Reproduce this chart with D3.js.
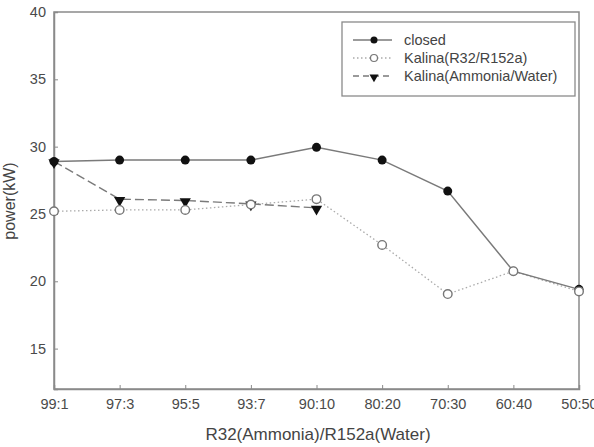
<!DOCTYPE html>
<html>
<head>
<meta charset="utf-8">
<script src="https://cdn.jsdelivr.net/npm/d3@7"></script>
<style>
  body { margin: 0; background: #fff; }
  text { font-family: "Liberation Sans", Arial, sans-serif; }
</style>
</head>
<body>
<svg id="chart" width="594" height="447"></svg>
<script>
// ratios on the x axis
const ratios = ["99:1", "97:3", "95:5", "93:7", "90:10", "80:20", "70:30", "60:40", "50:50"];
const closed = [28.9, 29.0, 29.0, 29.0, 29.95, 29.0, 26.7, 20.75, 19.4];
const kalinaR32 = [25.2, 25.3, 25.3, 25.7, 26.1, 22.7, 19.05, 20.75, 19.25];
const kalinaNH3 = [28.9, 26.1, 26.0, 25.75, 25.45];
const yTicks = [15, 20, 25, 30, 35, 40];

const svg = d3.select("#chart");
const plotL = 54, plotR = 579, plotT = 12, plotB = 389;

const x = d3.scalePoint().domain(ratios).range([plotL, plotR]).padding(0);
const y = d3.scaleLinear().domain([12, 40]).range([plotB, plotT]);

const axisCol = "#8a8a8a";
const lineCol = "#7a7a7a";

// frame
svg.append("rect")
  .attr("x", plotL).attr("y", plotT)
  .attr("width", plotR - plotL).attr("height", plotB - plotT)
  .attr("fill", "none").attr("stroke", axisCol).attr("stroke-width", 1.5);

// axes with inward ticks
const yAxis = svg.append("g")
  .attr("transform", `translate(${plotL},0)`)
  .call(d3.axisLeft(y).tickValues(yTicks).tickSize(-4).tickPadding(8));
const xAxis = svg.append("g")
  .attr("transform", `translate(0,${plotB})`)
  .call(d3.axisBottom(x).tickSize(-4).tickPadding(10));

[yAxis, xAxis].forEach(g => {
  g.select(".domain").attr("stroke", axisCol).attr("stroke-width", 1.5);
  g.selectAll(".tick line").attr("stroke", axisCol);
  g.selectAll(".tick text")
    .attr("fill", "#4a4a4a")
    .style("font-size", "14.5px")
    .style("font-family", "Liberation Sans, Arial, sans-serif");
});

// axis titles
svg.append("text")
  .attr("x", 318).attr("y", 440)
  .attr("text-anchor", "middle")
  .attr("fill", "#444")
  .style("font-size", "17px")
  .text("R32(Ammonia)/R152a(Water)");

svg.append("text")
  .attr("transform", "translate(15,201) rotate(-90)")
  .attr("text-anchor", "middle")
  .attr("fill", "#444")
  .style("font-size", "16px")
  .text("power(kW)");

const line = d3.line()
  .x((d, i) => x(ratios[i]))
  .y(d => y(d));

const tri = d3.symbol().type(d3.symbolTriangle).size(55);

// Kalina R32/R152a - dotted
svg.append("path").datum(kalinaR32)
  .attr("d", line).attr("fill", "none")
  .attr("stroke", "#aaa").attr("stroke-width", 1.3)
  .attr("stroke-dasharray", "1.5,2.5");

// Kalina Ammonia/Water - dashed
svg.append("path").datum(kalinaNH3)
  .attr("d", line).attr("fill", "none")
  .attr("stroke", lineCol).attr("stroke-width", 1.4)
  .attr("stroke-dasharray", "9,4");

// closed - solid
svg.append("path").datum(closed)
  .attr("d", line).attr("fill", "none")
  .attr("stroke", lineCol).attr("stroke-width", 1.5);

svg.selectAll(".nh3").data(kalinaNH3).join("path")
  .attr("class", "nh3")
  .attr("d", tri)
  .attr("transform", (d, i) => `translate(${x(ratios[i])},${y(d) + 1}) rotate(180)`)
  .attr("fill", "#111");

svg.selectAll(".cl").data(closed).join("circle")
  .attr("class", "cl")
  .attr("cx", (d, i) => x(ratios[i])).attr("cy", d => y(d))
  .attr("r", 4.5).attr("fill", "#111");

svg.selectAll(".r32").data(kalinaR32).join("circle")
  .attr("class", "r32")
  .attr("cx", (d, i) => x(ratios[i])).attr("cy", d => y(d))
  .attr("r", 4.3).attr("fill", "#fff")
  .attr("stroke", "#777").attr("stroke-width", 1.4);

// legend
const lg = svg.append("g");
lg.append("rect")
  .attr("x", 342).attr("y", 22).attr("width", 233).attr("height", 74)
  .attr("fill", "#fff").attr("stroke", axisCol).attr("stroke-width", 1.3);

const legendItems = [
  { label: "closed", dash: null, col: lineCol, marker: "fill" },
  { label: "Kalina(R32/R152a)", dash: "1.5,2.5", col: "#aaa", marker: "open" },
  { label: "Kalina(Ammonia/Water)", dash: "6,4", col: lineCol, marker: "tri" }
];

legendItems.forEach((it, i) => {
  const ly = 40 + i * 18;
  lg.append("line")
    .attr("x1", 353).attr("x2", 392).attr("y1", ly).attr("y2", ly)
    .attr("stroke", it.col).attr("stroke-width", 1.3)
    .attr("stroke-dasharray", it.dash);
  if (it.marker === "fill") {
    lg.append("circle").attr("cx", 374).attr("cy", ly).attr("r", 3.5).attr("fill", "#111");
  } else if (it.marker === "open") {
    lg.append("circle").attr("cx", 374).attr("cy", ly).attr("r", 3.5)
      .attr("fill", "#fff").attr("stroke", "#777").attr("stroke-width", 1.2);
  } else {
    lg.append("path").attr("d", d3.symbol().type(d3.symbolTriangle).size(35))
      .attr("transform", `translate(374,${ly + 1}) rotate(180)`).attr("fill", "#111");
  }
  lg.append("text")
    .attr("x", 404).attr("y", ly + 5)
    .attr("fill", "#444")
    .style("font-size", "14.5px")
    .text(it.label);
});
</script>
</body>
</html>
